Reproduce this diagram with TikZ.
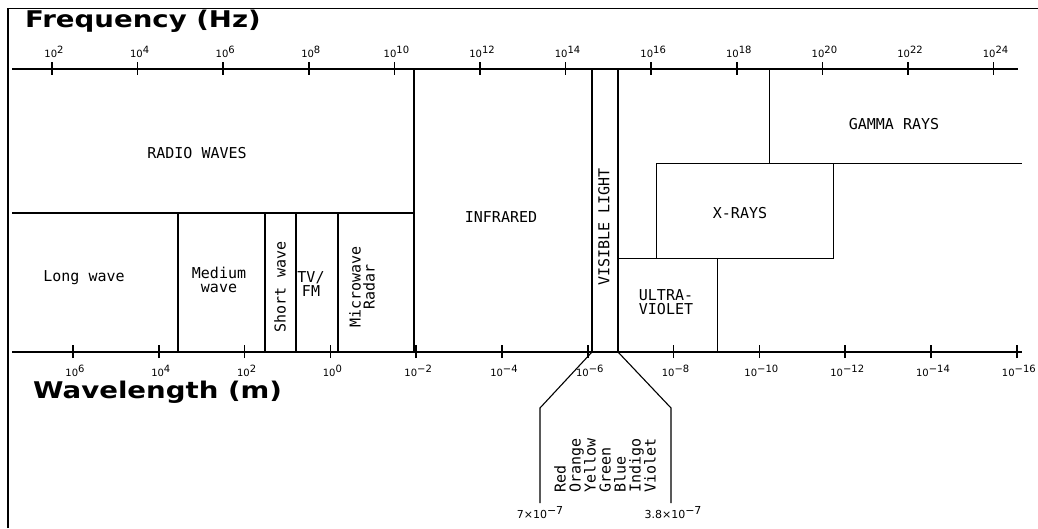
\documentclass[tikz,border=0pt]{standalone}
\usepackage{fontspec}
\newfontfamily\pixfont{DejaVu Sans Mono}
\newfontfamily\tickfont{DejaVu Sans}
\newfontfamily\titlefont[FakeStretch=1.2]{DejaVu Sans}
\newcommand\tenpow[1]{10\raisebox{4pt}{#1}}
\usetikzlibrary{positioning}
\tikzset{
  band/.style={font=\pixfont\fontsize{15}{14}\selectfont, inner sep=0pt, align=center},
  tick label/.style={font=\tickfont\fontsize{10}{10}\selectfont, inner sep=0pt},
  title/.style={anchor=base west, inner sep=0pt, font=\titlefont\bfseries\fontsize{23}{23}\selectfont},
  axis line/.style={line width=1.6pt},
  edge/.style={line width=1.1pt},
  thin edge/.style={line width=0.8pt},
}
\begin{document}
\begin{tikzpicture}[x=1pt,y=1pt]
        \useasboundingbox (0,0) rectangle (1038,528);
        % frame
        \draw[line width=1.6pt] (8,0) -- (8,520);
        \draw[line width=0.6pt] (8,520) -- (1038,520);
        % titles
        \node[title] (freq) at (25,500) {Frequency (Hz)};
        \node[title] (wave) at (33,130) {Wavelength (m)};
        % frequency axis
        \draw[axis line] (12,459) -- (1018,459);
        \foreach \e [count=\k from 0] in {2,4,...,24} {
          \draw[axis line] ({52+85.6*\k},453) -- ++(0,13);
          \node[tick label] (f\e) at ({54+85.6*\k},476) {\tenpow{\e}};
        }
        % wavelength axis
        \draw[axis line] (12,176) -- (1022,176);
        \foreach \e [count=\k from 0] in {6,4,2,0,−2,−4,−6,−8,−10,−12,−14,−16} {
          \draw[axis line] ({73+85.8*\k},170) -- ++(0,13);
          \node[tick label] (w\k) at ({75+85.8*\k},157) {\tenpow{\e}};
        }
        % radio bands
        \draw[edge] (414,459) -- (414,176);
        \draw[edge] (12,315) -- (414,315);
        \foreach \x in {178,265,296,338}
          \draw[edge] (\x,315) -- (\x,176);
        % visible light
        \draw[edge] (592,459) -- (592,176);
        \draw[edge] (618,459) -- (618,176);
        % x-rays, gamma, uv
        \draw[thin edge] (769,459) -- (769,365);
        \draw[thin edge] (656,270) rectangle (833,365);
        \draw[thin edge] (833,365) -- (1022,365);
        \draw[thin edge] (618,270) -- (656,270);
        \draw[thin edge] (717,270) -- (717,176);
        % band labels
        \node[band] (radio) at (197,375) {RADIO WAVES};
        \node[band] (gamma) at (894,404) {GAMMA RAYS};
        \node[band] (ir) at (501,311) {INFRARED};
        \node[band] (xray) at (740,315) {X-RAYS};
        \node[band, rotate=90] (vis) at (604,301) {VISIBLE LIGHT};
        \node[band] (uv) at (666,226) {ULTRA-\\VIOLET};
        \node[band] (long) at (84,250) {Long wave};
        \node[band] (medium) at (219,248) {Medium\\wave};
        \node[band, rotate=90] (short) at (280,241) {Short wave};
        \node[band] (tvfm) at (311,244) {TV/\\FM};
        \node[band, rotate=90] (micro) at (362,241) {Microwave\\Radar};
        % spread of the visible band
        \coordinate (red end) at (592,176);
        \coordinate (violet end) at (618,176);
        \coordinate (red bend) at (540,120);
        \coordinate (violet bend) at (671,120);
        \coordinate (red foot) at (540,25);
        \coordinate (violet foot) at (671,25);
        \draw[edge] (red end) -- (red bend) -- (red foot);
        \draw[edge] (violet end) -- (violet bend) -- (violet foot);
        \node[band, rotate=90, anchor=west, align=left, font=\pixfont\fontsize{15}{15}\selectfont] (colours) at (605,35) {Red\\Orange\\Yellow\\Green\\Blue\\Indigo\\Violet};
        \node[tick label, font=\tickfont\fontsize{11}{11}\selectfont] (red lim) at (540,15) {7×\tenpow{−7}};
        \node[tick label, font=\tickfont\fontsize{11}{11}\selectfont] (violet lim) at (673,15) {3.8×\tenpow{−7}};
\end{tikzpicture}
\end{document}
